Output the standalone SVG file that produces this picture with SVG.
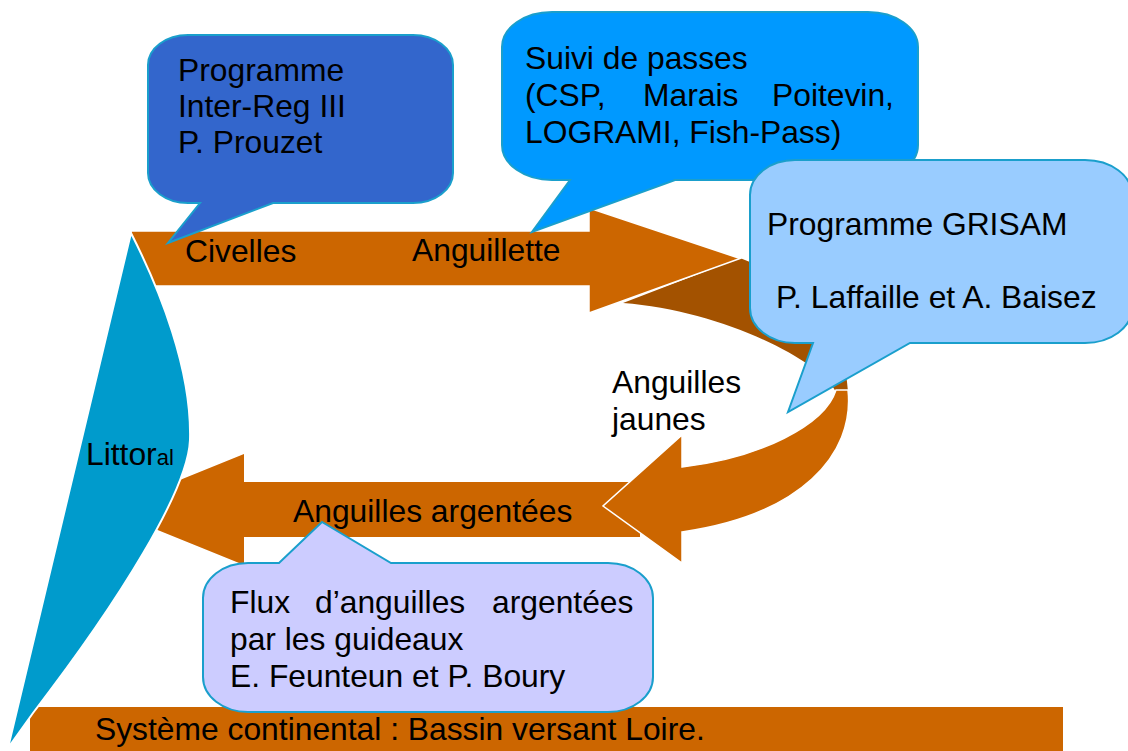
<svg xmlns="http://www.w3.org/2000/svg" width="1128" height="751" viewBox="0 0 1128 751">
<style>
text{font-family:"Liberation Sans",Arial,sans-serif;font-size:31.8px;fill:#000}
.flow{fill:#CC6600}
.callout{stroke:#1A9FCC;stroke-width:2}
</style>
<rect width="1128" height="751" fill="#fff"/>
<g id="connectors">
  <path id="curved-back" d="M623,303 L740,258 C800,280 845,330 848,392 L836,392 C820,360 720,310 623,303 Z" fill="#A35200"/>
  <path id="arrow-top" class="flow" d="M131,231 L589,231 L589,208 L740,258.5 L589,313 L589,286 L131,286 Z" stroke="#fff" stroke-width="1.5"/>
  <path id="arrow-bottom" class="flow" d="M640,482 L244,482 L244,454 L107,509.5 L244,565 L244,537 L640,537 Z"/>
  <path id="curved-front" class="flow" d="M836,390 L848,390 C855,455 800,515 682,532 L682,563 L603,506 L682,435 L682,467 C760,458 825,425 836,390 Z" stroke="#fff" stroke-width="1.5"/>
</g>
<g id="bassin">
  <rect x="30" y="707" width="1033" height="44" fill="#CC6600"/>
  <text x="95" y="740">Système continental : Bassin versant Loire.</text>
</g>
<g id="littoral">
  <path d="M131,233 C160,290 192,370 190,440 C188,490 120,600 33,713 L8,748 Z" fill="#009BCC" stroke="#fff" stroke-width="2"/>
  <text x="86" y="465">Littor<tspan font-size="22">al</tspan></text>
</g>
<g id="labels">
  <text x="185" y="262">Civelles</text>
  <text x="412" y="261">Anguillette</text>
  <text x="612" y="393">Anguilles</text>
  <text x="612" y="430">jaunes</text>
  <text x="293" y="522">Anguilles argentées</text>
</g>
<g id="callout-interreg">
  <path class="callout" fill="#3366CC" d="M188,35 H413 A40,30 0 0 1 453,65 V173 A40,30 0 0 1 413,203 H273 L168,243 L200,203 H188 A40,30 0 0 1 148,173 V65 A40,30 0 0 1 188,35 Z"/>
  <text x="178" y="81">Programme</text>
  <text x="178" y="117">Inter-Reg III</text>
  <text x="178" y="153">P. Prouzet</text>
</g>
<g id="callout-passes">
  <path class="callout" fill="#0099FF" d="M552,12 H868 A50,35 0 0 1 918,47 V145 A50,35 0 0 1 868,180 H675 L532,232 L570,180 H552 A50,35 0 0 1 502,145 V47 A50,35 0 0 1 552,12 Z"/>
  <text x="525" y="69">Suivi de passes</text>
  <text y="106"><tspan x="525">(CSP,</tspan><tspan x="643">Marais</tspan><tspan x="772">Poitevin,</tspan></text>
  <text x="525" y="143">LOGRAMI, Fish-Pass)</text>
</g>
<g id="callout-grisam">
  <path class="callout" fill="#99CCFF" d="M795,160 H1085 A47,35 0 0 1 1132,195 V308 A47,35 0 0 1 1085,343 H910 L788,412 L813,343 H795 A45,35 0 0 1 750,308 V195 A45,35 0 0 1 795,160 Z"/>
  <text x="767" y="235">Programme GRISAM</text>
  <text x="776" y="308">P. Laffaille et A. Baisez</text>
</g>
<g id="callout-flux">
  <path class="callout" fill="#CCCCFF" d="M248,563 H279 L322,522 L391,563 H608 A45,35 0 0 1 653,598 V677 A45,35 0 0 1 608,712 H248 A45,35 0 0 1 203,677 V598 A45,35 0 0 1 248,563 Z"/>
  <text y="613"><tspan x="230">Flux</tspan><tspan x="315">d’anguilles</tspan><tspan x="492">argentées</tspan></text>
  <text x="230" y="650">par les guideaux</text>
  <text x="230" y="687">E. Feunteun et P. Boury</text>
</g>
</svg>
